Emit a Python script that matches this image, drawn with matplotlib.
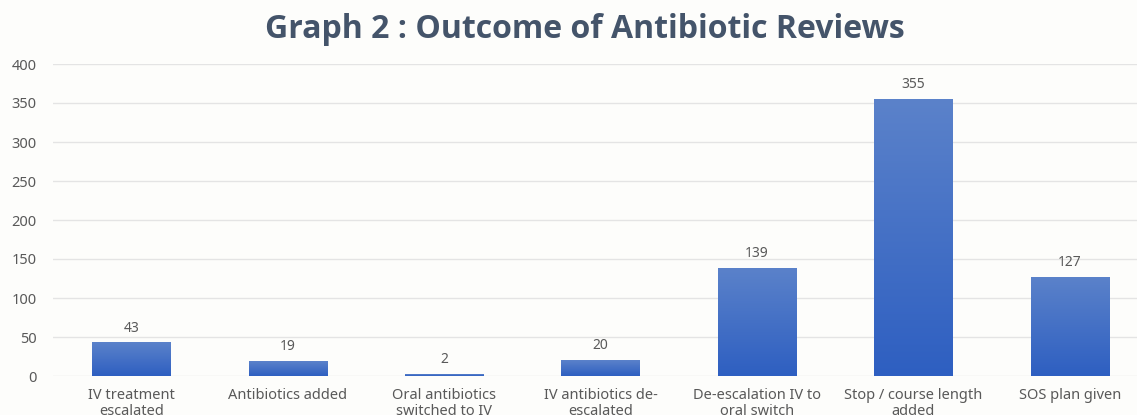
import numpy as np
import matplotlib
matplotlib.use("Agg")
import matplotlib.pyplot as plt

# Outcome counts per review category
categories = [
    "IV treatment\nescalated",
    "Antibiotics added",
    "Oral antibiotics\nswitched to IV",
    "IV antibiotics de-\nescalated",
    "De-escalation IV to\noral switch",
    "Stop / course length\nadded",
    "SOS plan given",
]
counts = [43, 19, 2, 20, 139, 355, 127]
y_ticks = [0, 50, 100, 150, 200, 250, 300, 350, 400]

plt.rcParams["font.family"] = ["Noto Sans", "DejaVu Sans"]

bg = "#fdfdfb"
text_grey = "#595959"

fig = plt.figure(figsize=(11.37, 4.15), dpi=100, facecolor=bg)
ax = fig.add_axes([53 / 1137, 39 / 415, 1 - 53 / 1137, (376 - 64) / 415])
ax.set_facecolor(bg)

x = np.arange(len(categories))
bars = ax.bar(x, counts, width=0.5, color="#4472c4", zorder=2)

# Vertical gradient fill, lighter at the top of each bar
grad = np.linspace(0, 1, 256).reshape(-1, 1)
cmap = matplotlib.colors.LinearSegmentedColormap.from_list(
    "bar_grad", ["#2e5fc1", "#5b82ca"]
)
for bar in bars:
    bx, by = bar.get_x(), bar.get_y()
    bw, bh = bar.get_width(), bar.get_height()
    im = ax.imshow(
        grad,
        extent=(bx, bx + bw, by, by + bh),
        origin="lower",
        cmap=cmap,
        aspect="auto",
        zorder=3,
    )
    im.set_clip_path(bar)

# Value labels above bars
for xi, val in zip(x, counts):
    ax.annotate(
        f"{val}",
        (xi, val),
        xytext=(0, 5),
        textcoords="offset points",
        ha="center",
        va="bottom",
        fontsize=10,
        color=text_grey,
    )

ax.set_xlim(-0.5, 6.43)
ax.set_ylim(0, 400)
ax.set_yticks(y_ticks)
ax.set_xticks(x)
ax.set_xticklabels(categories, fontsize=10.5, color=text_grey, linespacing=1.1)
ax.tick_params(axis="y", length=0, pad=12, labelsize=10.5, labelcolor=text_grey)
ax.tick_params(axis="x", length=0, pad=8.5)
ax.grid(axis="y", color="#e4e4e4", linewidth=1, zorder=0)
for spine in ax.spines.values():
    spine.set_visible(False)

fig.text(
    0.514,
    0.93,
    "Graph 2 : Outcome of Antibiotic Reviews",
    ha="center",
    va="center",
    fontsize=23,
    fontweight="bold",
    family=["Open Sans", "DejaVu Sans"],
    color="#44546a",
)

fig.savefig("out.png", dpi=100, facecolor=bg)
